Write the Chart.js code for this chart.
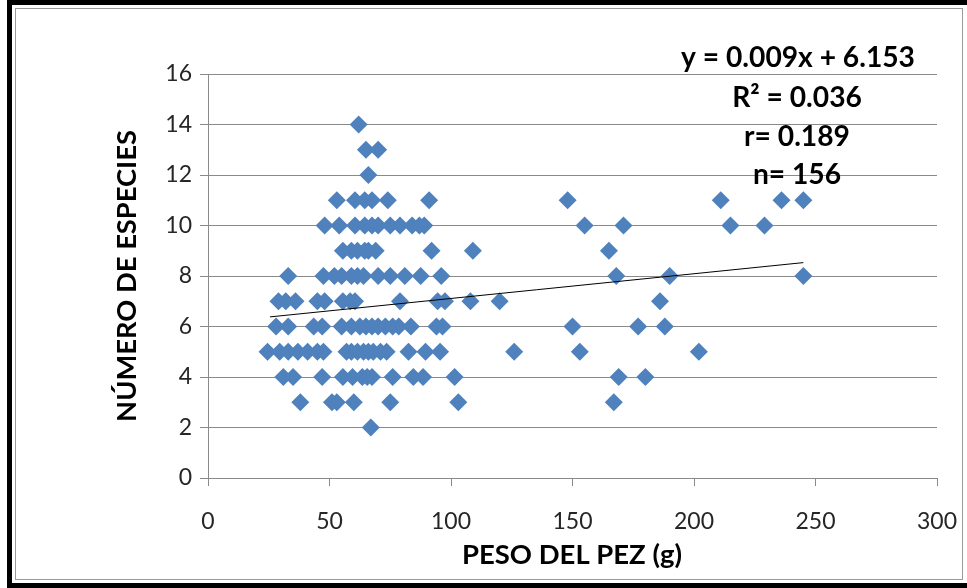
<!DOCTYPE html>
<html><head><meta charset="utf-8">
<script src="https://cdn.jsdelivr.net/npm/chart.js@4.4.0/dist/chart.umd.min.js"></script>
<style>html,body{margin:0;padding:0;background:#fff;overflow:hidden}#wrap{position:relative;width:967px;height:588px}</style>
</head><body><div id="wrap"><canvas id="c" width="967" height="588"></canvas></div>
<script>
const especies2  = [67];
const especies3  = [38, 51, 53, 60, 75, 103, 167];
const especies4  = [31, 35, 47, 55.5, 59.5, 63.5, 65.5, 67.5, 76, 84.5, 88.5, 101.5, 169, 180];
const especies5  = [24.5, 29.5, 33, 37, 41, 45, 47.5, 57, 59, 61.5, 64, 66, 68, 71, 73.5, 82.5, 89.5, 95.5, 126, 153, 202];
const especies6  = [28, 33, 43.5, 47, 55, 59, 62.5, 65, 67.5, 70, 73, 76, 78.5, 83.5, 94, 96.5, 150, 177, 188];
const especies7  = [29, 32, 36, 45, 48, 55.5, 58.5, 60.5, 79, 94.5, 97.5, 108, 120, 186];
const especies8  = [33, 47.5, 52, 55, 59, 61.5, 64, 70, 75, 81, 87.5, 96, 168, 190, 245];
const especies9  = [55.5, 59, 61.5, 64.5, 66, 69, 92, 109, 165];
const especies10 = [48, 54, 60.5, 64.5, 67.5, 70, 75, 79, 84, 87, 89, 155, 171, 215, 229];
const especies11 = [53, 60.5, 64.5, 67.5, 74, 91, 148, 211, 236, 245];
const especies12 = [66];
const especies13 = [65, 70];
const especies14 = [62];
const nivelesEspecies = [2, 3, 4, 5, 6, 7, 8, 9, 10, 11, 12, 13, 14];
const pesosPorNivel = [especies2, especies3, especies4, especies5, especies6, especies7, especies8, especies9, especies10, especies11, especies12, especies13, especies14];

// Trend line end points as drawn
const tendenciaX = [25.5, 245];
const tendenciaY = [6.38, 8.53];

const xTicks = [0, 50, 100, 150, 200, 250, 300];
const yTicks = [0, 2, 4, 6, 8, 10, 12, 14, 16];

const etiquetas = ['y = 0.009x + 6.153', 'R\u00B2 = 0.036', 'r= 0.189', 'n= 156'];
const tituloX = 'PESO DEL PEZ (g)';
const tituloY = 'N\u00DAMERO DE ESPECIES';

const puntos = [];
nivelesEspecies.forEach((n, i) => pesosPorNivel[i].forEach(p => puntos.push({x: p, y: n})));
const tendencia = tendenciaX.map((x, i) => ({x, y: tendenciaY[i]}));

const FONT = 'Lato, "Open Sans", sans-serif';
const GRID = '#8a8a8a';

function fitFont(ctx, text, width, weight) {
  ctx.font = weight + ' 100px ' + FONT;
  const w = ctx.measureText(text).width;
  return 100 * width / w;
}

const decor = {
  id: 'decor',
  beforeDraw(chart) {
    const c = chart.ctx;
    c.save();
    c.fillStyle = '#fff';
    c.fillRect(0, 0, chart.width, chart.height);
    c.fillStyle = '#000';
    c.fillRect(7, 0, 960, 5);     // top
    c.fillRect(7, 0, 5, 588);     // left
    c.fillRect(7, 583, 960, 5);   // bottom
    c.strokeStyle = '#9a9a9a';
    c.lineWidth = 1;
    c.strokeRect(15.5, 8.5, 947, 571);
    c.restore();
  },
  afterDraw(chart) {
    const c = chart.ctx;
    c.save();
    c.fillStyle = '#000';
    c.textAlign = 'center';
    c.textBaseline = 'middle';
    const sz = fitFont(c, etiquetas[0], 234, 'bold');
    c.font = 'bold ' + sz + 'px ' + FONT;
    const ys = [58, 98, 137, 175];
    etiquetas.forEach((t, i) => c.fillText(t, i === 0 ? 798 : 797, ys[i]));
    // axis titles
    const sx = fitFont(c, tituloX, 220, 'bold');
    c.font = 'bold ' + sx + 'px ' + FONT;
    c.fillText(tituloX, 572, 555);
    const sy = fitFont(c, tituloY, 292, 'bold');
    c.font = 'bold ' + sy + 'px ' + FONT;
    c.translate(127, 276);
    c.rotate(-Math.PI / 2);
    c.fillText(tituloY, 0, 0);
    c.restore();
  }
};

new Chart(document.getElementById('c'), {
  type: 'scatter',
  data: {
    datasets: [
      {data: tendencia, showLine: true, borderColor: '#000', borderWidth: 1, pointRadius: 0, order: 0},
      {data: puntos, pointStyle: 'rectRot', pointRadius: 9, backgroundColor: '#4F81BD', borderColor: '#4F81BD', borderWidth: 0, order: 1}
    ]
  },
  options: {
    responsive: false,
    animation: false,
    layout: {padding: {top: 74, right: 0, left: 0, bottom: 0}},
    plugins: {legend: {display: false}, tooltip: {enabled: false}},
    scales: {
      x: {
        type: 'linear', min: xTicks[0], max: xTicks[xTicks.length - 1],
        afterBuildTicks(s) { s.ticks = xTicks.map(v => ({value: v})); },
        ticks: {font: {family: FONT, size: 23}, color: '#262626', padding: 22},
        grid: {drawOnChartArea: false, drawTicks: true, tickLength: 8, color: GRID},
        border: {color: GRID},
        afterFit(s) { s.height = 110; s.paddingRight = 30; }
      },
      y: {
        min: yTicks[0], max: yTicks[yTicks.length - 1],
        afterBuildTicks(s) { s.ticks = yTicks.map(v => ({value: v})); },
        ticks: {font: {family: FONT, size: 23}, color: '#262626', padding: 8},
        grid: {color: GRID, tickLength: 8},
        border: {color: GRID},
        afterFit(s) { s.width = 208; s.paddingTop = 0; s.paddingBottom = 0; }
      }
    }
  },
  plugins: [decor]
});
</script>
</body></html>
